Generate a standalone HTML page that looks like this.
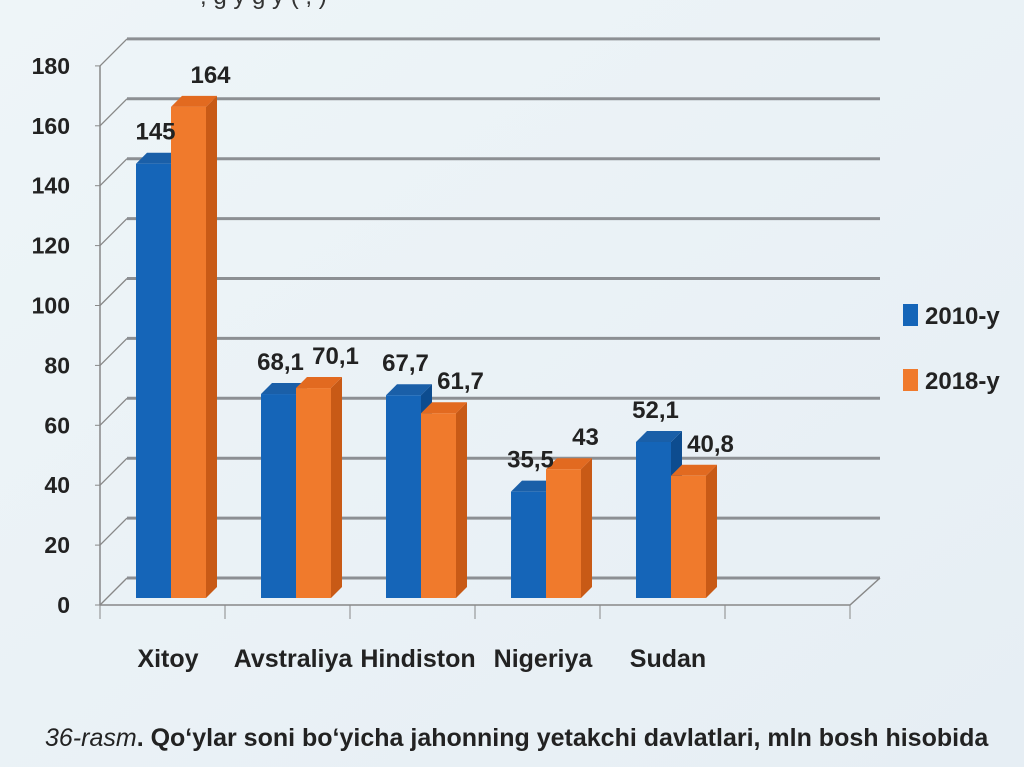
<!DOCTYPE html>
<html><head><meta charset="utf-8"><style>
html,body{margin:0;padding:0;width:1024px;height:767px;overflow:hidden;background:#eef4f7;font-family:"Liberation Sans",sans-serif;}
svg{position:absolute;left:0;top:0}
</style></head><body>
<svg width="1024" height="767">
<defs><linearGradient id="bg" x1="0" y1="0" x2="1" y2="1"><stop offset="0" stop-color="#eef5f8"/><stop offset="1" stop-color="#e6eef4"/></linearGradient></defs>
<rect width="1024" height="767" fill="url(#bg)"/>
<text x="200" y="4" font-size="24" fill="#333">, g   y        g  y  (     ,     )</text>
<g id="grid"></g><g id="bars"></g><g id="labels"></g>
<g>
<rect x="903" y="304" width="15" height="22" fill="#1565b8"/>
<text x="925" y="324" font-size="24" font-weight="bold" fill="#222">2010-y</text>
<rect x="903" y="369" width="15" height="22" fill="#f07a2c"/>
<text x="925" y="389" font-size="24" font-weight="bold" fill="#222">2018-y</text>
</g>
<text x="45" y="746" font-size="25" fill="#222"><tspan font-style="italic">36-rasm</tspan><tspan font-weight="bold">. Qo‘ylar soni bo‘yicha jahonning yetakchi davlatlari, mln bosh hisobida</tspan></text>
</svg>
<script>
const categories=["Xitoy","Avstraliya","Hindiston","Nigeriya","Sudan"];
const values2010=[145,68.1,67.7,35.5,52.1];
const values2018=[164,70.1,61.7,43,40.8];
const labels2010=["145","68,1","67,7","35,5","52,1"];
const labels2018=["164","70,1","61,7","43","40,8"];
const yTicks=[0,20,40,60,80,100,120,140,160,180];
const NS="http://www.w3.org/2000/svg";
function mk(t,a,p){const e=document.createElementNS(NS,t);for(const k in a)e.setAttribute(k,a[k]);p.appendChild(e);return e;}
const x0=100,x1=850,yBase=605,ppu=2.995,D=27;
const yF=v=>yBase-v*ppu;
const bandX=i=>x0+i*125;
const grid=document.getElementById('grid'),bars=document.getElementById('bars'),lab=document.getElementById('labels');
let a=mk('line',{x1:x0,y1:yF(0),x2:x0,y2:yF(180),stroke:'#888','stroke-width':1.5},grid);

yTicks.forEach(v=>{
 const y=yF(v);
 let g=mk('line',{x1:x0+D,y1:y-D,x2:880,y2:y-D,stroke:'#8c8f93','stroke-width':3},grid);
 
 let d=mk('line',{x1:x0,y1:y,x2:x0+D,y2:y-D,stroke:'#888','stroke-width':1.3},grid);
 
 mk('line',{x1:x0-5,y1:y,x2:x0,y2:y,stroke:'#888'},grid);
 let t=mk('text',{x:x0-30,y:y+8,'font-size':23,'font-weight':'bold',fill:'#222','text-anchor':'end'},grid);
 t.textContent=v;
});
let fb=mk('polyline',{points:`${x0},${yBase} ${x1},${yBase} ${880},${yBase-D}`,fill:'none',stroke:'#888','stroke-width':1.5},grid);

for(let i=0;i<=6;i++){mk('line',{x1:bandX(i),y1:yBase,x2:bandX(i),y2:yBase+14,stroke:'#888'},grid);}
const dd=11,bw=35,bb=598;
function bar(x,v,front,side,top,name){
 const g=mk('g',{},bars);
 
 const y=bb-v*ppu;
 mk('polygon',{points:`${x+bw},${y} ${x+bw+dd},${y-dd} ${x+bw+dd},${bb-dd} ${x+bw},${bb}`,fill:side},g);
 mk('polygon',{points:`${x},${y} ${x+dd},${y-dd} ${x+bw+dd},${y-dd} ${x+bw},${y}`,fill:top},g);
 mk('rect',{x:x,y:y,width:bw,height:bb-y,fill:front},g);
 return y;
}
categories.forEach((c,i)=>{
 const bx=bandX(i)+36;
 const y1=bar(bx,values2010[i],'#1565b8','#0d4c8f','#1a5fa8','bar-2010-'+c);
 const y2=bar(bx+bw,values2018[i],'#f07a2c','#c85a16','#e26a20','bar-2018-'+c);
 let t=mk('text',{x:bx+bw/2+2,y:y1-24,'font-size':24,'font-weight':'bold',fill:'#222','text-anchor':'middle'},lab);
 t.textContent=labels2010[i];
 let t2=mk('text',{x:bx+bw*1.5+22,y:y2-24,'font-size':24,'font-weight':'bold',fill:'#222','text-anchor':'middle'},lab);
 t2.textContent=labels2018[i];
 let cl=mk('text',{x:bandX(i)+68,y:667,'font-size':25,'font-weight':'bold',fill:'#222','text-anchor':'middle'},lab);
 cl.textContent=c;
});
</script>
</body></html>
